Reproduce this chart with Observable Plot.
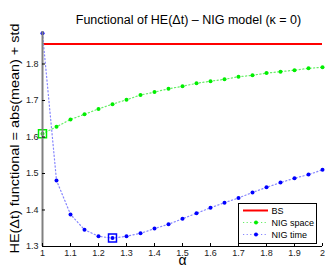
<!DOCTYPE html>
<html>
<head>
<meta charset="utf-8">
<script src="https://cdn.jsdelivr.net/npm/d3@7"></script>
<script src="https://cdn.jsdelivr.net/npm/@observablehq/plot@0.6"></script>
<style>
  body { margin: 0; background: #fff; }
  #wrap { position: relative; width: 325px; height: 270px; }
  #wrap svg { position: absolute; left: 0; top: 0; }
</style>
</head>
<body>
<div id="wrap"></div>
<script>
const alpha = [1, 1.05, 1.1, 1.15, 1.2, 1.25, 1.3, 1.35, 1.4, 1.45, 1.5, 1.55, 1.6, 1.65, 1.7, 1.75, 1.8, 1.85, 1.9, 1.95, 2];
const nigSpace = [1.609, 1.628, 1.648, 1.662, 1.677, 1.690, 1.702, 1.715, 1.723, 1.732, 1.739, 1.747, 1.753, 1.758, 1.765, 1.769, 1.775, 1.779, 1.783, 1.788, 1.791];
const nigTime = [1.884, 1.481, 1.388, 1.346, 1.328, 1.323, 1.328, 1.336, 1.349, 1.361, 1.376, 1.391, 1.406, 1.420, 1.433, 1.448, 1.462, 1.475, 1.487, 1.497, 1.510];
const bsValue = 1.855;
const xTicks = [1, 1.1, 1.2, 1.3, 1.4, 1.5, 1.6, 1.7, 1.8, 1.9, 2];
const yTicks = [1.3, 1.4, 1.5, 1.6, 1.7, 1.8];
const legendLabels = ["BS", "NIG space", "NIG time"];
const titleText = "Functional of HE(\u0394t) \u2013 NIG model (\u03ba = 0)";
const yLabel = "HE(\u0394t) functional = abs(mean) + std";
const xLabel = "\u03b1";

const spaceData = alpha.map((a, i) => ({a, v: nigSpace[i]}));
const timeData = alpha.map((a, i) => ({a, v: nigTime[i]}));
const spaceMin = [spaceData[d3.minIndex(nigSpace)]];
const timeMin = [timeData[d3.minIndex(nigTime)]];

const FONT = "'Liberation Sans', Arial, Helvetica, sans-serif";
const blueLine = "#8585ff", blueDot = "#0000ff";
const greenLine = "#66ee66", greenDot = "#00ee00";

const chart = Plot.plot({
  width: 325,
  height: 270,
  marginLeft: 42,
  marginRight: 3,
  marginTop: 31,
  marginBottom: 24,
  style: {fontFamily: FONT, fontSize: "9px", color: "#222", background: "white"},
  x: {domain: [1, 2], label: null},
  y: {domain: [1.3, 1.889], label: null},
  marks: [
    Plot.ruleY([bsValue], {stroke: "#ff0000", strokeWidth: 2}),
    Plot.line(spaceData, {x: "a", y: "v", stroke: greenLine, strokeWidth: 1.2, strokeDasharray: "1.2,2.4"}),
    Plot.line(timeData, {x: "a", y: "v", stroke: blueLine, strokeWidth: 1.2, strokeDasharray: "1.2,2.4"}),
    Plot.dot(spaceData, {x: "a", y: "v", r: 2, fill: greenDot}),
    Plot.dot(timeData, {x: "a", y: "v", r: 2, fill: blueDot}),
    Plot.dot(spaceMin, {x: "a", y: "v", symbol: "square", r: 4.5, stroke: greenDot, strokeWidth: 1.5, fill: "none"}),
    Plot.dot(timeMin, {x: "a", y: "v", symbol: "square", r: 4.5, stroke: blueDot, strokeWidth: 1.5, fill: "none"}),
    Plot.ruleY([1.3], {stroke: "black", strokeWidth: 1}),
    Plot.ruleX([1], {stroke: "#808080", strokeWidth: 2}),
    Plot.axisX({ticks: xTicks, tickSize: 0, tickPadding: 3, tickFormat: d => String(d), label: null, fontSize: 9}),
    Plot.axisX({ticks: xTicks, tickSize: -3, text: null, label: null, stroke: "black"}),
    Plot.axisY({ticks: yTicks, tickSize: 0, tickPadding: 4, tickFormat: d => d.toFixed(1), label: null, fontSize: 9}),
    Plot.axisY({ticks: yTicks, tickSize: -3, text: null, label: null, stroke: "black"}),
    Plot.text([titleText], {frameAnchor: "top", dy: -16, dx: 6, fontSize: 12.5, fill: "black"}),
    Plot.text([xLabel], {frameAnchor: "bottom", dy: 18, fontSize: 14, fill: "black"})
  ]
});
document.getElementById("wrap").appendChild(chart);

// Overlay: y label and legend
const leg = d3.select("#wrap").append("svg")
  .attr("width", 325).attr("height", 270)
  .style("font-family", FONT).style("font-size", "9px");
leg.append("text")
  .attr("transform", "translate(14.5,138.5) rotate(-90)")
  .attr("text-anchor", "middle").attr("dy", "0.35em")
  .attr("textLength", 230).attr("lengthAdjust", "spacingAndGlyphs")
  .style("font-size", "12px").attr("fill", "black").text(yLabel);

const bx = 238, by = 203, bw = 78, bh = 40;
leg.append("rect").attr("x", bx + 0.5).attr("y", by + 0.5).attr("width", bw).attr("height", bh)
  .attr("fill", "white").attr("stroke", "black").attr("stroke-width", 1);
const items = [
  {label: legendLabels[0], stroke: "#ff0000", dash: null, width: 2, dot: null},
  {label: legendLabels[1], stroke: greenLine, dash: "1.2,2.4", width: 1.2, dot: greenDot},
  {label: legendLabels[2], stroke: blueLine, dash: "1.2,2.4", width: 1.2, dot: blueDot}
];
items.forEach((it, i) => {
  const y = 210.5 + i * 12;
  leg.append("line").attr("x1", 243).attr("x2", 268).attr("y1", y).attr("y2", y)
    .attr("stroke", it.stroke).attr("stroke-width", it.width)
    .attr("stroke-dasharray", it.dash);
  if (it.dot) leg.append("circle").attr("cx", 256).attr("cy", y).attr("r", 2).attr("fill", it.dot);
  leg.append("text").attr("x", 271.5).attr("y", y).attr("dy", "0.35em").attr("fill", "black").text(it.label);
});
</script>
</body>
</html>
